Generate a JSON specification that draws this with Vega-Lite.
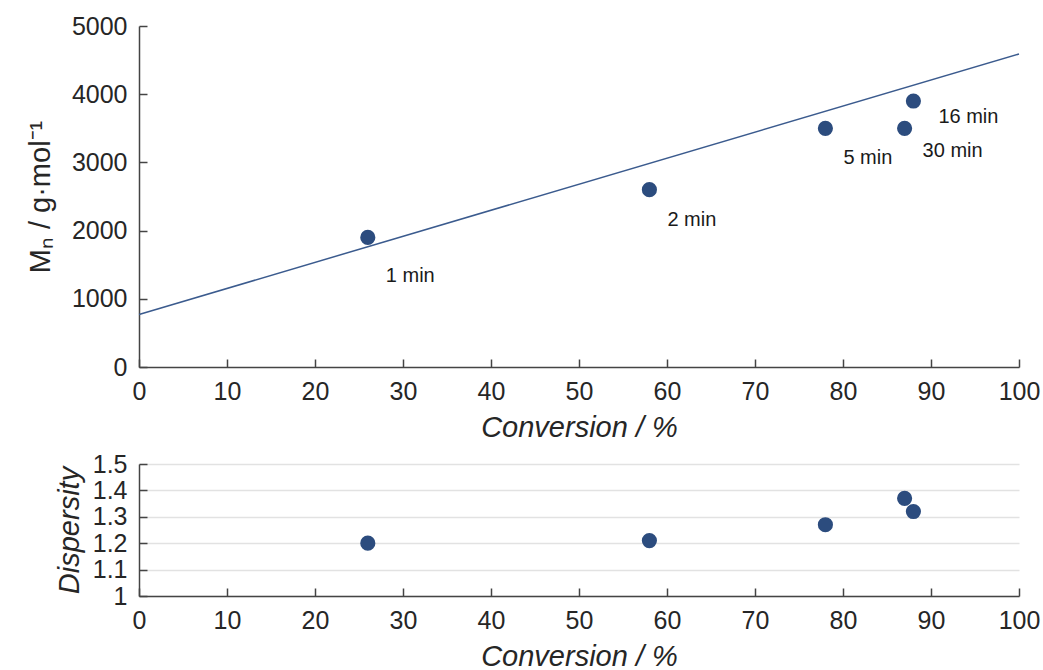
{
  "$schema": "https://vega.github.io/schema/vega-lite/v6.json",
  "padding": {"left": 26, "top": 14, "right": 20, "bottom": 0},
  "spacing": 10,
  "config": {
    "view": {"stroke": null},
    "font": "Liberation Sans",
    "axis": {
      "domainColor": "#444444",
      "domainWidth": 1.5,
      "tickColor": "#444444",
      "tickWidth": 1.5,
      "tickSize": -8,
      "labelFontSize": 25,
      "labelColor": "#262626",
      "labelPadding": 20,
      "titleFontSize": 29,
      "titleColor": "#262626",
      "titleFontWeight": "normal",
      "grid": false,
      "labelOverlap": false,
      "labelFlush": false,
      "format": "~g"
    }
  },
  "datasets": {
    "points": [
      {"time": "1 min", "conv": 26, "mn": 1900, "disp": 1.20},
      {"time": "2 min", "conv": 58, "mn": 2600, "disp": 1.21},
      {"time": "5 min", "conv": 78, "mn": 3500, "disp": 1.27},
      {"time": "30 min", "conv": 87, "mn": 3500, "disp": 1.37},
      {"time": "16 min", "conv": 88, "mn": 3900, "disp": 1.32}
    ],
    "fit": [
      {"conv": 0, "mn": 770},
      {"conv": 100, "mn": 4590}
    ]
  },
  "vconcat": [
    {
      "width": 880,
      "height": 341,
      "encoding": {
        "x": {"field": "conv", "type": "quantitative", "scale": {"domain": [0, 100], "nice": false},
              "axis": {"values": [0,10,20,30,40,50,60,70,80,90,100], "format": "d", "title": "Conversion / %", "titleFontStyle": "italic", "titlePadding": 9}},
        "y": {"field": "mn", "type": "quantitative", "scale": {"domain": [0, 5000], "nice": false},
              "axis": {"values": [0,1000,2000,3000,4000,5000], "format": "d", "title": "Mₙ / g·mol⁻¹", "titlePadding": 16}}
      },
      "layer": [
        {"data": {"name": "fit"}, "mark": {"type": "line", "color": "#3b5b8e", "strokeWidth": 1.5}},
        {"data": {"name": "points"}, "mark": {"type": "circle", "size": 230, "opacity": 1, "color": "#2c4c7e"}},
        {"data": {"name": "points"}, "transform": [{"filter": "datum.time == '1 min'"}],
         "mark": {"type": "text", "align": "left", "baseline": "middle", "dx": 18, "dy": 39, "fontSize": 20, "color": "#1a1a1a"},
         "encoding": {"text": {"field": "time"}}},
        {"data": {"name": "points"}, "transform": [{"filter": "datum.time == '2 min' || datum.time == '5 min'"}],
         "mark": {"type": "text", "align": "left", "baseline": "middle", "dx": 18, "dy": 30, "fontSize": 20, "color": "#1a1a1a"},
         "encoding": {"text": {"field": "time"}}},
        {"data": {"name": "points"}, "transform": [{"filter": "datum.time == '30 min'"}],
         "mark": {"type": "text", "align": "left", "baseline": "middle", "dx": 18, "dy": 23, "fontSize": 20, "color": "#1a1a1a"},
         "encoding": {"text": {"field": "time"}}},
        {"data": {"name": "points"}, "transform": [{"filter": "datum.time == '16 min'"}],
         "mark": {"type": "text", "align": "left", "baseline": "middle", "dx": 25, "dy": 16, "fontSize": 20, "color": "#1a1a1a"},
         "encoding": {"text": {"field": "time"}}}
      ]
    },
    {
      "width": 880,
      "height": 132,
      "data": {"name": "points"},
      "mark": {"type": "circle", "size": 230, "opacity": 1, "color": "#2c4c7e"},
      "encoding": {
        "x": {"field": "conv", "type": "quantitative", "scale": {"domain": [0, 100], "nice": false},
              "axis": {"values": [0,10,20,30,40,50,60,70,80,90,100], "format": "d", "title": "Conversion / %", "titleFontStyle": "italic", "titlePadding": 9}},
        "y": {"field": "disp", "type": "quantitative", "scale": {"domain": [1, 1.5], "nice": false, "zero": false},
              "axis": {"values": [1,1.1,1.2,1.3,1.4,1.5], "format": "~g", "title": "Dispersity", "titleFontStyle": "italic", "titlePadding": 8,
                       "grid": true, "gridColor": "#e2e2e2", "gridWidth": 1.5}}
      }
    }
  ]
}
